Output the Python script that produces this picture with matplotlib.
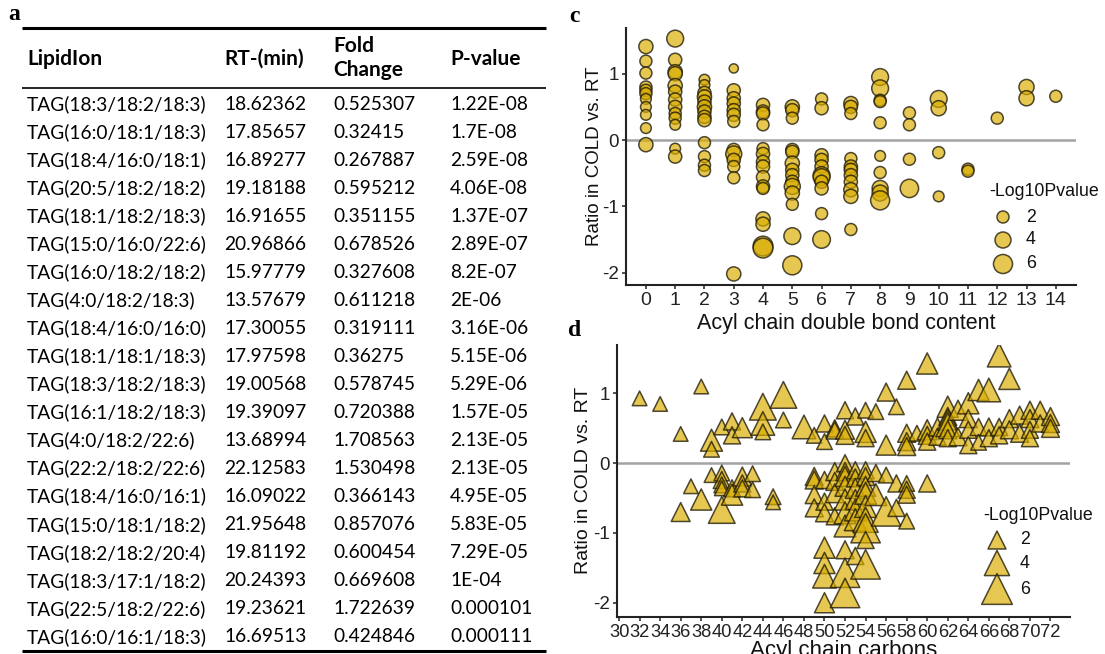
import matplotlib
matplotlib.use("Agg")
import matplotlib.pyplot as plt
import numpy as np

# ---------------- data: table (panel a) ----------------
tbl_header = ["LipidIon", "RT-(min)", "Fold\nChange", "P-value"]
tbl_lipid = ["TAG(18:3/18:2/18:3)", "TAG(16:0/18:1/18:3)", "TAG(18:4/16:0/18:1)",
             "TAG(20:5/18:2/18:2)", "TAG(18:1/18:2/18:3)", "TAG(15:0/16:0/22:6)",
             "TAG(16:0/18:2/18:2)", "TAG(4:0/18:2/18:3)", "TAG(18:4/16:0/16:0)",
             "TAG(18:1/18:1/18:3)", "TAG(18:3/18:2/18:3)", "TAG(16:1/18:2/18:3)",
             "TAG(4:0/18:2/22:6)", "TAG(22:2/18:2/22:6)", "TAG(18:4/16:0/16:1)",
             "TAG(15:0/18:1/18:2)", "TAG(18:2/18:2/20:4)", "TAG(18:3/17:1/18:2)",
             "TAG(22:5/18:2/22:6)", "TAG(16:0/16:1/18:3)"]
tbl_rt = ["18.62362", "17.85657", "16.89277", "19.18188", "16.91655", "20.96866",
          "15.97779", "13.57679", "17.30055", "17.97598", "19.00568", "19.39097",
          "13.68994", "22.12583", "16.09022", "21.95648", "19.81192", "20.24393",
          "19.23621", "16.69513"]
tbl_fc = ["0.525307", "0.32415", "0.267887", "0.595212", "0.351155", "0.678526",
          "0.327608", "0.611218", "0.319111", "0.36275", "0.578745", "0.720388",
          "1.708563", "1.530498", "0.366143", "0.857076", "0.600454", "0.669608",
          "1.722639", "0.424846"]
tbl_p = ["1.22E-08", "1.7E-08", "2.59E-08", "4.06E-08", "1.37E-07", "2.89E-07",
         "8.2E-07", "2E-06", "3.16E-06", "5.15E-06", "5.29E-06", "1.57E-05",
         "2.13E-05", "2.13E-05", "4.95E-05", "5.83E-05", "7.29E-05", "1E-04",
         "0.000101", "0.000111"]

# ---------------- data: panel c (double bonds) ----------------
c_dbl = ([0]*11 + [1]*13 + [2]*13 + [3]*13 + [4]*15 + [5]*14 + [6]*11 + [7]*11
         + [8]*10 + [9]*4 + [10]*4 + [11]*2 + [12] + [13]*2 + [14])
c_ratio = [1.41, 1.19, 1.01, 0.80, 0.75, 0.70, 0.62, 0.50, 0.38, 0.18, -0.07,
           1.53, 1.21, 1.03, 1.00, 0.82, 0.73, 0.61, 0.50, 0.40, 0.33, 0.23, -0.13, -0.25,
           0.91, 0.83, 0.71, 0.65, 0.58, 0.50, 0.43, 0.35, 0.30, -0.04, -0.25, -0.38, -0.46,
           1.08, 0.75, 0.63, 0.55, 0.45, 0.38, 0.28, -0.15, -0.21, -0.30, -0.40, -0.57, -2.02,
           0.53, 0.43, 0.40, 0.23, -0.13, -0.21, -0.33, -0.40, -0.56, -0.70, -0.73, -1.19, -1.27, -1.60, -1.63,
           0.50, 0.45, 0.33, -0.15, -0.18, -0.35, -0.45, -0.53, -0.63, -0.70, -0.80, -0.97, -1.45, -1.89,
           0.62, 0.48, -0.23, -0.30, -0.40, -0.53, -0.56, -0.63, -0.73, -1.11, -1.50,
           0.55, 0.50, 0.40, -0.28, -0.40, -0.45, -0.53, -0.63, -0.75, -0.85, -1.35,
           0.95, 0.78, 0.60, 0.58, 0.26, -0.24, -0.49, -0.73, -0.80, -0.91,
           0.41, 0.23, -0.29, -0.73,
           0.62, 0.48, -0.19, -0.85,
           -0.44, -0.47,
           0.33,
           0.80, 0.63,
           0.66]
c_logp = [3.0, 2.0, 2.0, 2.0, 2.0, 2.0, 1.5, 1.5, 1.5, 1.5, 3.0,
          4.5, 2.5, 3.0, 3.0, 3.0, 2.5, 2.5, 2.5, 2.0, 2.0, 1.5, 1.5, 2.5,
          1.5, 1.5, 2.5, 3.0, 2.5, 3.0, 2.5, 2.5, 2.5, 2.0, 2.0, 2.0, 2.0,
          1.0, 2.5, 2.5, 2.5, 2.5, 2.5, 2.0, 2.5, 4.0, 2.5, 2.0, 2.0, 3.0,
          2.5, 2.5, 2.5, 2.0, 2.0, 2.5, 2.5, 2.5, 2.5, 2.5, 2.0, 3.0, 3.0, 6.5, 6.5,
          3.0, 2.5, 2.0, 2.5, 2.5, 3.0, 2.5, 2.5, 2.5, 4.0, 3.0, 2.0, 4.5, 6.0,
          2.0, 2.5, 2.5, 2.5, 2.5, 4.5, 4.5, 2.5, 2.5, 2.0, 5.0,
          3.0, 2.5, 2.0, 2.0, 2.5, 2.5, 2.5, 2.5, 3.0, 3.0, 2.0,
          4.5, 4.5, 2.0, 2.0, 2.0, 1.5, 2.0, 4.0, 4.0, 6.0,
          2.0, 2.0, 2.0, 5.5,
          4.5, 3.5, 2.0, 1.5,
          2.0, 2.0,
          2.0,
          3.5, 3.5,
          2.0]

# ---------------- data: panel d (carbons) ----------------
d_carbon = ([32, 34, 36, 36, 37, 38, 38, 39, 39, 39]
            + [40]*6 + [41]*4 + [42]*4 + [43]*2 + [44]*3 + [45]*2 + [46]*2 + [48]
            + [49]*5 + [50]*9 + [51]*6 + [52]*13 + [53]*8 + [54]*12 + [55]*3
            + [56]*4 + [57]*3 + [58]*8 + [59] + [60]*5 + [61]*2 + [62]*6 + [63]*2
            + [64]*4 + [65]*3 + [66]*3 + [67]*3 + [68]*3 + [69]*2 + [70]*4
            + [71]*2 + [72]*3)
d_ratio = [0.93, 0.85, 0.42, -0.70, -0.33, 1.10, -0.52, 0.33, 0.20, -0.17,
           0.52, -0.14, -0.24, -0.31, -0.36, -0.67,
           0.60, 0.40, -0.36, -0.45,
           0.51, -0.19, -0.29, -0.36,
           -0.15, -0.38,
           0.81, 0.57, 0.45,
           -0.48, -0.56,
           0.98, 0.62,
           0.52,
           0.40, -0.19, -0.24, -0.45, -0.64,
           0.57, 0.31, -0.24, -0.55, -0.71, -1.21, -1.43, -1.62, -2.00,
           0.50, 0.47, -0.12, -0.26, -0.43, -0.76,
           0.76, 0.48, 0.40, 0.00, -0.12, -0.19, -0.33, -0.52, -0.71, -0.90, -1.24, -1.57, -1.86,
           0.67, -0.10, -0.21, -0.36, -0.52, -0.67, -0.81, -1.33,
           0.76, 0.45, 0.36, -0.10, -0.19, -0.33, -0.43, -0.62, -0.81, -0.93, -1.10, -1.45,
           0.74, -0.14, -0.45,
           1.02, 0.26, -0.17, -0.69,
           0.81, -0.29, -0.64,
           1.19, 0.43, 0.31, 0.24, -0.29, -0.38, -0.45, -0.83,
           0.43,
           1.43, 0.48, 0.40, 0.31, -0.29,
           0.52, 0.38,
           0.81, 0.67, 0.62, 0.55, 0.48, 0.36,
           0.76, 0.38,
           0.86, 0.64, 0.48, 0.26,
           1.05, 0.52, 0.30,
           1.05, 0.52, 0.36,
           1.55, 0.52, 0.40,
           1.21, 0.64, 0.48,
           0.69, 0.43,
           0.76, 0.64, 0.48, 0.36,
           0.76, 0.57,
           0.67, 0.57, 0.50]
d_logp = [1.3, 1.3, 1.3, 2.2, 1.3, 1.3, 2.8, 3.0, 1.5, 1.3,
          1.5, 1.5, 1.8, 1.5, 1.3, 4.5,
          1.8, 1.8, 1.8, 2.8,
          2.5, 2.2, 1.8, 1.8,
          1.5, 1.5,
          4.5, 3.5, 1.5,
          1.5, 1.3,
          4.5, 1.5,
          3.5,
          1.5, 2.0, 2.0, 2.0, 2.0,
          1.8, 1.5, 1.8, 1.8, 2.0, 2.8, 2.8, 3.5, 2.5,
          1.8, 1.8, 2.0, 2.0, 2.2, 1.8,
          1.8, 2.2, 2.0, 1.8, 2.0, 2.5, 2.5, 2.8, 3.0, 3.0, 2.0, 5.5, 5.5,
          1.8, 1.8, 2.0, 2.5, 2.5, 3.0, 3.0, 1.8,
          1.5, 2.8, 1.8, 1.8, 2.0, 2.5, 3.0, 3.0, 4.0, 5.5, 1.8, 5.5,
          1.5, 1.8, 3.0,
          2.0, 2.5, 1.5, 5.5,
          1.5, 1.8, 1.8,
          2.0, 2.0, 2.0, 2.0, 1.5, 1.8, 1.8, 1.5,
          1.5,
          2.8, 2.5, 2.0, 1.8, 1.8,
          2.0, 1.8,
          2.8, 2.0, 2.5, 3.5, 2.0, 1.8,
          2.5, 2.0,
          2.8, 2.0, 1.8, 1.8,
          2.8, 1.8, 1.5,
          3.5, 2.0, 1.8,
          3.5, 1.8, 1.8,
          2.8, 2.0, 2.0,
          2.0, 2.0,
          2.0, 2.0, 1.8, 1.8,
          2.0, 1.8,
          2.0, 2.0, 2.0]

legend_levels = [2, 4, 6]
c_xticks = list(range(0, 15))
d_xticks = list(range(30, 73, 2))
y_ticks = [-2, -1, 0, 1]

# ---------------- styling ----------------
W, H = 1105, 654
DPI = 100
FILL = (0.85, 0.68, 0.0, 0.68)
EDGE = (0.12, 0.10, 0.03, 0.78)
PT = 72.0 / DPI  # points per pixel
SANS = "Liberation Sans"
TBL_FONT = "Lato"


def circle_s(v):
    d = 2.4 + 6.8 * np.sqrt(np.asarray(v, float))  # diameter in px
    return (d * PT) ** 2


def tri_s(v):
    w = 0.6 + 12.3 * np.sqrt(np.asarray(v, float))  # width in px
    return (w * PT) ** 2


fig = plt.figure(figsize=(W / DPI, H / DPI), dpi=DPI)


def frac_rect(x0, x1, ytop, ybot):
    return [x0 / W, 1 - ybot / H, (x1 - x0) / W, (ybot - ytop) / H]


def style_axes(ax, xticks, xlim, ylim, xsize, ysize):
    ax.set_xlim(*xlim)
    ax.set_ylim(*ylim)
    ax.set_xticks(xticks)
    ax.set_yticks(y_ticks)
    ax.set_yticklabels([str(t) for t in y_ticks])
    for s in ("top", "right"):
        ax.spines[s].set_visible(False)
    for s in ("left", "bottom"):
        ax.spines[s].set_linewidth(1.5)
        ax.spines[s].set_color("#222222")
    ax.tick_params(axis="both", direction="out", length=3, width=1.1,
                   color="#222222", labelcolor="#222222", pad=2)
    ax.tick_params(axis="x", labelsize=xsize)
    ax.tick_params(axis="y", labelsize=ysize)
    for lab in ax.get_xticklabels() + ax.get_yticklabels():
        lab.set_fontfamily(SANS)
    ax.axhline(0, color="#a3a3a3", lw=1.8, zorder=1)


# ---------- panel c ----------
axc = fig.add_axes(frac_rect(626, 1076, 28, 285))
style_axes(axc, c_xticks, (-0.68, 14.69), (-2.187, 1.69), 14, 13.5)
axc.scatter(c_dbl, c_ratio, s=circle_s(c_logp), marker="o",
            facecolor=FILL, edgecolor=EDGE, linewidths=1.1, zorder=3)
axc.set_ylabel("Ratio in COLD vs. RT", fontsize=13.5, family=SANS, color="#111111",
               va="center")
axc.yaxis.set_label_coords(-0.069, 0.5)
axc.set_xlabel("Acyl chain double bond content", fontsize=15.5, family=SANS,
               color="#111111", va="center")
axc.xaxis.set_label_coords(0.49, -0.15)

# ---------- panel d ----------
axd = fig.add_axes(frac_rect(617, 1070, 345, 616.7))
style_axes(axd, d_xticks, (29.8, 73.9), (-2.2, 1.695), 13.2, 13.5)
axd.scatter(d_carbon, d_ratio, s=tri_s(d_logp), marker="^",
            facecolor=FILL, edgecolor=EDGE, linewidths=1.1, zorder=3)
axd.set_ylabel("Ratio in COLD vs. RT", fontsize=14, family=SANS, color="#111111",
               va="center")
axd.yaxis.set_label_coords(-0.073, 0.5)
axd.set_xlabel("Acyl chain carbons", fontsize=16, family=SANS,
               color="#111111", va="center")
axd.xaxis.set_label_coords(0.5, -0.125)

# ---------- overlay in pixel coordinates: table, panel letters, legends ----------
ov = fig.add_axes([0, 0, 1, 1], zorder=10)
ov.set_xlim(0, W)
ov.set_ylim(H, 0)
ov.axis("off")

# panel letters
for letter, (lx, ly) in zip("acd", [(14, 15), (574, 16), (575, 331)]):
    ov.text(lx, ly, letter, family="Liberation Serif", weight="bold", fontsize=17,
            ha="center", va="center")

# table rules
ov.plot([22, 546], [28, 28], color="black", lw=2.2, solid_capstyle="butt")
ov.plot([22, 546], [88, 88], color="black", lw=1.2, solid_capstyle="butt")
ov.plot([22, 546], [651, 651], color="black", lw=2.2, solid_capstyle="butt")

col_x = [27, 224, 333, 450]
HDR_FS = 15
DAT_FS = 13.8
ov.text(col_x[0], 59, tbl_header[0], family=TBL_FONT, weight="bold", fontsize=HDR_FS,
        ha="left", va="center")
ov.text(col_x[1], 59, tbl_header[1], family=TBL_FONT, weight="bold", fontsize=HDR_FS,
        ha="left", va="center")
ov.text(col_x[2], 58, tbl_header[2], family=TBL_FONT, weight="bold", fontsize=HDR_FS,
        ha="left", va="center", linespacing=1.2)
ov.text(col_x[3], 59, tbl_header[3], family=TBL_FONT, weight="bold", fontsize=HDR_FS,
        ha="left", va="center")

row_y0, row_dy = 104, 28.05
for i, (lp, rt, fc, pv) in enumerate(zip(tbl_lipid, tbl_rt, tbl_fc, tbl_p)):
    y = row_y0 + i * row_dy
    for x, txt in zip(col_x, (lp, rt, fc, pv)):
        ov.text(x, y, txt, family=TBL_FONT, fontsize=DAT_FS, ha="left", va="center")

# legend c
ov.text(989, 192, "-Log10Pvalue", family=SANS, fontsize=12.8, ha="left", va="center",
        color="#111111")
leg_c_y = [217, 240, 264]
ov.scatter([1003] * 3, leg_c_y, s=circle_s(legend_levels), marker="o",
           facecolor=FILL, edgecolor=EDGE, linewidths=1.1)
for yy, lv in zip(leg_c_y, legend_levels):
    ov.text(1026, yy, str(lv), family=SANS, fontsize=12.8, ha="left", va="center",
            color="#111111")

# legend d
ov.text(983, 515, "-Log10Pvalue", family=SANS, fontsize=12.8, ha="left", va="center",
        color="#111111")
leg_d_y = [540, 563, 589]
ov.scatter([997] * 3, leg_d_y, s=tri_s(legend_levels), marker="^",
           facecolor=FILL, edgecolor=EDGE, linewidths=1.1)
for yy, lv in zip(leg_d_y, legend_levels):
    ov.text(1020, yy, str(lv), family=SANS, fontsize=12.8, ha="left", va="center",
            color="#111111")

fig.savefig("out.png", dpi=DPI)
